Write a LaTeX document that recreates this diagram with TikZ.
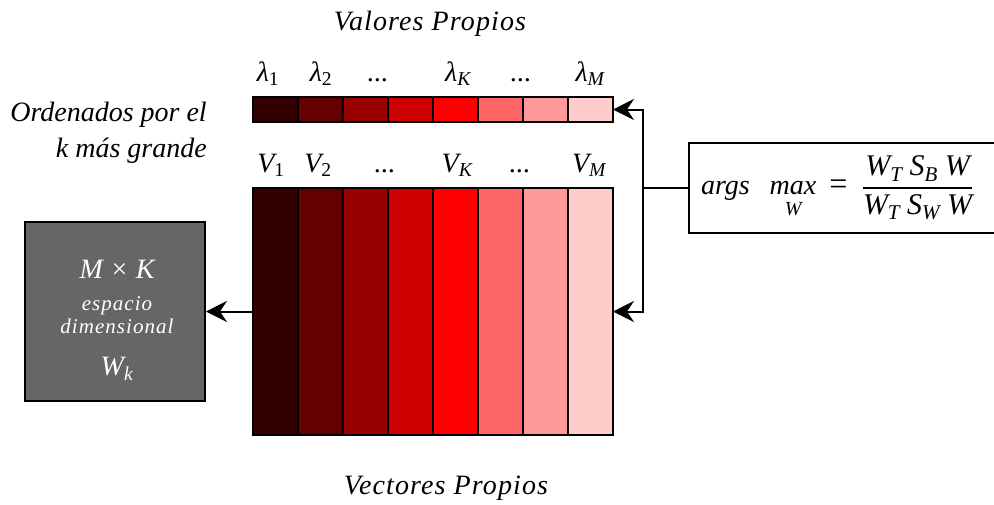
\documentclass[tikz,border=0pt]{standalone}
\usepackage{fontspec}
\setmainfont{Liberation Serif}
\usetikzlibrary{positioning,arrows.meta}

\definecolor{tone1}{HTML}{330000}
\definecolor{tone2}{HTML}{660000}
\definecolor{tone3}{HTML}{990000}
\definecolor{tone4}{HTML}{CC0000}
\definecolor{tone5}{HTML}{FF0000}
\definecolor{tone6}{HTML}{FF6666}
\definecolor{tone7}{HTML}{FF9999}
\definecolor{tone8}{HTML}{FFCCCC}
\definecolor{spacegray}{HTML}{666666}

\newcommand{\sbs}[1]{\textsubscript{#1}}
\setlength{\arrayrulewidth}{2.5pt}

\begin{document}
\begin{tikzpicture}[x=1pt, y=-1pt,
  cell/.style={draw, line width=2pt, minimum width=45pt, minimum height=#1, inner sep=0pt, outer sep=0pt},
  lbl/.style={font=\fontsize{28}{32}\selectfont\itshape, inner sep=0pt, anchor=base},
  title/.style={font=\fontsize{28}{36}\selectfont\itshape, inner sep=0pt, align=right},
  space/.style={draw, line width=2pt, fill=spacegray, minimum width=180pt, minimum height=179pt, inner sep=0pt},
  spacetext/.style={text=white, align=center, inner sep=0pt, font=\fontsize{21}{23}\selectfont\itshape},
  formula/.style={draw, line width=2pt, fill=white, text width=300pt, align=left, minimum height=90pt, inner xsep=12pt, inner ysep=0pt, font=\fontsize{28}{34}\selectfont\itshape},
  arrow/.style={-{Stealth[length=21pt, width=21pt, inset=7pt]}, line width=2pt}
]
\clip (0,0) rectangle (994,504);

% eigenvalue bar and eigenvector block
\foreach \i/\col in {1/tone1, 2/tone2, 3/tone3, 4/tone4, 5/tone5, 6/tone6, 7/tone7, 8/tone8} {
  \node[cell=25pt, fill=\col] (val\i) at ({275.5+45*(\i-1)}, 109.5) {};
  \node[cell=247pt, fill=\col] (vec\i) at ({275.5+45*(\i-1)}, 311.5) {};
}

\node[title, align=center, font=\fontsize{28}{36}\selectfont\itshape\addfontfeatures{LetterSpace=4}] (valtitle) at (430,24) {Valores Propios};
\node[title, align=center, font=\fontsize{28}{36}\selectfont\itshape\addfontfeatures{LetterSpace=4}] (vectitle) at (446,488) {Vectores Propios};
\node[title, anchor=east] (order) at (207,133) {Ordenados por el\\k más grande};

\node[lbl] (lam1) at (268,81) {λ\sbs{\upshape 1}};
\node[lbl] (lam2) at (321,81) {λ\sbs{\upshape 2}};
\node[lbl] (lamd1) at (378,81) {...};
\node[lbl] (lamK) at (458,81) {λ\sbs{K}};
\node[lbl] (lamd2) at (521,81) {...};
\node[lbl] (lamM) at (590,81) {λ\sbs{M}};

\node[lbl] (v1) at (271,172) {V\sbs{\upshape 1}};
\node[lbl] (v2) at (318,172) {V\sbs{\upshape 2}};
\node[lbl] (vd1) at (385,172) {...};
\node[lbl] (vK) at (457,172) {V\sbs{K}};
\node[lbl] (vd2) at (520,172) {...};
\node[lbl] (vM) at (589,172) {V\sbs{M}};

\node[space] (subspace) at (115,311.5) {};
\node[spacetext] (subtext) at (117,320) {%
  {\fontsize{28}{28}\selectfont M × K}\\[9pt]
  {\addfontfeatures{LetterSpace=5}espacio}\\
  {\addfontfeatures{LetterSpace=5}dimensional}\\[19pt]
  {\fontsize{28}{28}\selectfont W\sbs{k}}};

\node[formula, anchor=west] (argmax) at (688,188) {args\hspace{20pt}\begin{tabular}[t]{@{}c@{}}max\\[-13pt]{\fontsize{20}{20}\selectfont W}\end{tabular}\hspace{11pt}{\fontsize{32}{34}\selectfont =}\hspace{14pt}{\fontsize{30}{36}\selectfont\begin{tabular}{@{}c@{}}W\sbs{T}\hspace{7pt}S\sbs{B}\hspace{7pt}W\\\hline W\sbs{T}\hspace{7pt}S\sbs{W}\hspace{7pt}W\end{tabular}}};

\draw[arrow] (vec1.west) -- (subspace.east);
\draw[arrow] (argmax.west) -- ++(-45,0) |- (val8.east);
\draw[arrow] (argmax.west) -- ++(-45,0) |- (vec8.east);

\end{tikzpicture}
\end{document}
